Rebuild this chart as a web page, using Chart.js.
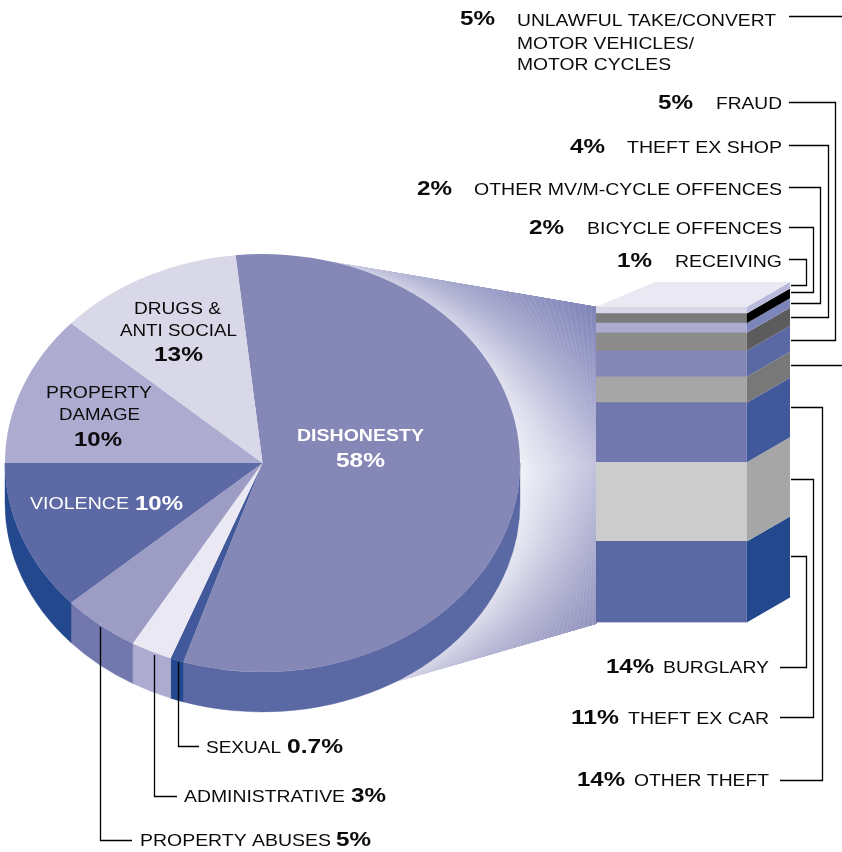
<!DOCTYPE html>
<html>
<head>
<meta charset="utf-8">
<script src="https://cdn.jsdelivr.net/npm/chart.js@4/dist/chart.umd.min.js"></script>
<style>
html,body{margin:0;padding:0;background:#fff;overflow:hidden}
canvas{position:absolute;left:0;top:0}
</style>
</head>
<body>
<canvas id="pie" width="842" height="852"></canvas>
<canvas id="bar" width="842" height="852"></canvas>
<script>
// ---- data ----
const pieCategories = ['DISHONESTY','SEXUAL','ADMINISTRATIVE','PROPERTY ABUSES','VIOLENCE','PROPERTY DAMAGE','DRUGS & ANTI SOCIAL'];
const pieStatedPercent = ['58%','0.7%','3%','5%','10%','10%','13%'];
const pieDrawnShare = [56.64, 0.83, 2.6, 4.94, 11.66, 11.66, 11.67];   // slice sizes as drawn
const barCategories = ['BURGLARY','THEFT EX CAR','OTHER THEFT','UNLAWFUL TAKE/CONVERT','FRAUD','THEFT EX SHOP','OTHER MV/M-CYCLE OFFENCES','BICYCLE OFFENCES','RECEIVING'];
const barStatedPercent = ['14%','11%','14%','5%','5%','4%','2%','2%','1%'];
const barDrawnShare = [14.9, 14.55, 10.95, 4.76, 4.76, 3.33, 1.76, 1.76, 1.21];  // band heights as drawn

// ---- styles ----
const pieTop  = ['#8587b6','#41599b','#e9e8f3','#9c9cc5','#5c69a4','#adabd0','#d9d8e8'];
const pieSide = ['#5a68a4','#23488e','#adabd0','#7278ae','#23488e','#7278ae','#adabd0'];
const barFront= ['#5a68a4','#cccccc','#7278ae','#a6a6a6','#8587b6','#8c8c8c','#adabd0','#7a7a7a','#d9d8e8'];
const barSide = ['#23488e','#a6a6a6','#41599b','#787878','#5a68a4','#5c5c5c','#7c85b9','#000000','#b9badb'];

const CX=262.5, CY=463, RX=257.5, RY=209, DEPTH=40;
const DX=43.3, DY=-25;

function mix(a,b,t){return a.map((v,i)=>Math.round(v+(b[i]-v)*t));}
function rgb(c){return 'rgb('+c.join(',')+')';}

const fanPlugin = {
  id:'pie3d',
  beforeDatasetsDraw(chart){
    const ctx=chart.ctx;
    // connecting fan between the big slice and the column
    const a0=-74.7*Math.PI/180, a1=59*Math.PI/180, edgeTop=307, edgeBot=623.5, edgeX=597;
    const S=80, N=46;
    const pieOutline=[],edge=[];
    for(let i=0;i<=S;i++){
      const s=i/S, th=a0+s*(a1-a0);
      let k=(th+0.3)/0.6; k=Math.max(0,Math.min(1,k)); k=k*k*(3-2*k);
      pieOutline.push([CX+RX*Math.cos(th),CY+RY*Math.sin(th)+DEPTH*k]);
      edge.push([edgeX,edgeTop+s*(edgeBot-edgeTop)]);
    }
    for(let n=0;n<N;n++){
      const t=n/(N-1);
      const pts=pieOutline.map((p,i)=>[p[0]+(edge[i][0]-p[0])*t,p[1]+(edge[i][1]-p[1])*t]);
      const g=ctx.createLinearGradient(0,pts[0][1],0,pts[S][1]);
      g.addColorStop(0,rgb(mix([196,196,222],[125,130,182],t)));
      g.addColorStop(0.5,rgb(mix([240,240,248],[190,190,220],t)));
      g.addColorStop(1,rgb(mix([208,208,228],[146,146,190],t)));
      ctx.beginPath();
      pts.forEach((p,i)=>i?ctx.lineTo(p[0],p[1]):ctx.moveTo(p[0],p[1]));
      ctx.lineTo(edgeX,edgeBot);ctx.lineTo(edgeX,edgeTop);ctx.closePath();
      ctx.fillStyle=g;ctx.fill();
      ctx.beginPath();
      pts.forEach((p,i)=>i?ctx.lineTo(p[0],p[1]):ctx.moveTo(p[0],p[1]));
      ctx.strokeStyle='rgba(255,255,255,0.18)';ctx.lineWidth=0.6;ctx.stroke();
    }
    // side wall of the pie, from the arcs the library computed
    const arcs=chart.getDatasetMeta(0).data;
    arcs.forEach((arc,i)=>{
      const p=arc.getProps(['startAngle','endAngle','x','y','outerRadius'],true);
      let a=p.startAngle, b=p.endAngle;
      a=Math.max(a,0); b=Math.min(b,Math.PI);
      if(b<=a) return;
      const ry=p.outerRadius*RY/RX;
      ctx.beginPath();
      ctx.ellipse(p.x,CY,p.outerRadius,ry,0,a,b,false);
      ctx.ellipse(p.x,CY+DEPTH,p.outerRadius,ry,0,b,a,true);
      ctx.closePath();
      ctx.fillStyle=pieSide[i];ctx.fill();
      ctx.strokeStyle=pieSide[i];ctx.lineWidth=0.4;ctx.stroke();
    });
    // squash the library's circular pie into the ellipse
    ctx.save();
    ctx.translate(0,CY);ctx.scale(1,RY/RX);ctx.translate(0,-CY);
  },
  afterDatasetsDraw(chart){chart.ctx.restore();}
};

new Chart(document.getElementById('pie'),{
  type:'pie',
  data:{labels:pieCategories,datasets:[{data:pieDrawnShare,backgroundColor:pieTop,borderWidth:0}]},
  options:{
    responsive:false,animation:false,rotation:-6,
    layout:{padding:{left:5,right:322,top:205.5,bottom:131.5}},
    plugins:{legend:{display:false},tooltip:{enabled:false}}
  },
  plugins:[fanPlugin]
});

// ---- annotation layout ----
const INK='#0c0a0b', REG='16.5px "Liberation Sans"', BOLD='bold 21px "Liberation Sans"';
const leaderLines=[
 [[789,16.5],[842,16.5]],
 [[791,365.5],[842,365.5]],
 [[789,102.5],[835.5,102.5],[835.5,340.5],[791,340.5]],
 [[789,145.5],[828.5,145.5],[828.5,317.5],[791,317.5]],
 [[789,187.5],[820.5,187.5],[820.5,303.5],[791,303.5]],
 [[789,227.5],[813.5,227.5],[813.5,292.5],[791,292.5]],
 [[789,259.5],[806.5,259.5],[806.5,285.5],[791,285.5]],
 [[791,556.5],[806.5,556.5],[806.5,667.5],[780,667.5]],
 [[791,479.5],[813.5,479.5],[813.5,717.5],[780,717.5]],
 [[791,407.5],[822.5,407.5],[822.5,780.5],[780,780.5]],
 [[178.5,662],[178.5,746.5],[199,746.5]],
 [[154.5,655],[154.5,796.5],[177,796.5]],
 [[100.5,627],[100.5,840.5],[132,840.5]]
];
const textRows=[
 // text, x0, x1, baseline, font, colour
 [barStatedPercent[3],460,495,25,BOLD,INK],
 ['UNLAWFUL TAKE/CONVERT',517,776,25.5,REG,INK],
 ['MOTOR VEHICLES/',517,694,48.5,REG,INK],
 ['MOTOR CYCLES',517,671,70,REG,INK],
 [barStatedPercent[4],658,693,109,BOLD,INK],
 [barCategories[4],716,782,109,REG,INK],
 [barStatedPercent[5],570,605,153,BOLD,INK],
 [barCategories[5],627,782,153,REG,INK],
 [barStatedPercent[6],417,452,195,BOLD,INK],
 [barCategories[6],474,782,195,REG,INK],
 [barStatedPercent[7],529,564,234,BOLD,INK],
 [barCategories[7],587,782,234,REG,INK],
 [barStatedPercent[8],617,652,267,BOLD,INK],
 [barCategories[8],675,782,267,REG,INK],
 [barStatedPercent[0],606,654,673,BOLD,INK],
 [barCategories[0],663,769,673,REG,INK],
 [barStatedPercent[1],571,619,724,BOLD,INK],
 [barCategories[1],628,769,724,REG,INK],
 [barStatedPercent[2],577,625,786,BOLD,INK],
 [barCategories[2],634,769,786,REG,INK],
 [pieCategories[1],206,281,753,REG,INK],
 [pieStatedPercent[1],287,343,753,BOLD,INK],
 [pieCategories[2],184,345,802,REG,INK],
 [pieStatedPercent[2],351,386,802,BOLD,INK],
 [pieCategories[3],140,331,846,REG,INK],
 [pieStatedPercent[3],336,371,846,BOLD,INK],
 [pieCategories[4],30,129,509,REG,'#ffffff'],
 [pieStatedPercent[4],135,183,510,BOLD,'#ffffff'],
 [pieCategories[0],297,424,441,'bold 16.5px "Liberation Sans"','#ffffff'],
 [pieStatedPercent[0],336,385,467,BOLD,'#ffffff'],
 ['DRUGS &',134,221,314,REG,INK],
 ['ANTI SOCIAL',120,237,336,REG,INK],
 [pieStatedPercent[6],154,203,361,BOLD,INK],
 ['PROPERTY',46,152,398,REG,INK],
 ['DAMAGE',59,140,420,REG,INK],
 [pieStatedPercent[5],74,122,446,BOLD,INK]
];

const barPlugin={
  id:'bar3d',
  afterDatasetsDraw(chart){
    const ctx=chart.ctx;
    let topY=null, L=0, R=0;
    chart.data.datasets.forEach((d,i)=>{
      const el=chart.getDatasetMeta(i).data[0];
      const p=el.getProps(['x','y','base','width'],true);
      const r=p.x+p.width/2;
      L=p.x-p.width/2;R=r;
      if(topY===null||p.y<topY)topY=p.y;
      ctx.beginPath();
      ctx.moveTo(r,p.y);ctx.lineTo(r+DX,p.y+DY);ctx.lineTo(r+DX,p.base+DY);ctx.lineTo(r,p.base);ctx.closePath();
      ctx.fillStyle=barSide[i];ctx.fill();
    });
    // lid of the column
    ctx.beginPath();
    ctx.moveTo(L,topY);ctx.lineTo(655,topY+DY);ctx.lineTo(R+DX,topY+DY);ctx.lineTo(R,topY);ctx.closePath();
    ctx.fillStyle='#e9e8f3';ctx.fill();
    // leader lines
    ctx.strokeStyle='#000000';ctx.lineWidth=1.3;ctx.lineJoin='miter';
    leaderLines.forEach(l=>{
      ctx.beginPath();
      l.forEach((p,i)=>i?ctx.lineTo(p[0],p[1]):ctx.moveTo(p[0],p[1]));
      ctx.stroke();
    });
    // labels, fitted to their measured widths
    ctx.textAlign='left';ctx.textBaseline='alphabetic';
    textRows.forEach(r=>{
      ctx.save();
      ctx.font=r[4];ctx.fillStyle=r[5];
      const w=ctx.measureText(r[0]).width;
      ctx.translate(r[1],r[3]);ctx.scale((r[2]-r[1])/w,1);
      ctx.fillText(r[0],0,0);
      ctx.restore();
    });
  }
};

new Chart(document.getElementById('bar'),{
  type:'bar',
  data:{labels:['DISHONESTY 58%'],datasets:barCategories.map((c,i)=>({label:c,data:[barDrawnShare[i]],backgroundColor:barFront[i],borderWidth:0,categoryPercentage:1,barPercentage:1}))},
  options:{
    responsive:false,animation:false,
    layout:{padding:{left:596,right:95.3,top:305.7,bottom:229.5}},
    scales:{
      x:{stacked:true,display:false},
      y:{stacked:true,display:false,min:0,max:58.22}
    },
    plugins:{legend:{display:false},tooltip:{enabled:false}}
  },
  plugins:[barPlugin]
});
</script>
</body>
</html>
